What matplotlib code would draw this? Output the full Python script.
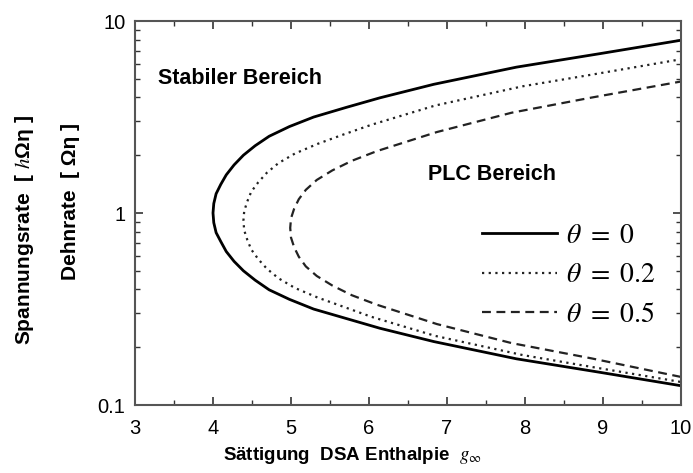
import matplotlib
matplotlib.use('Agg')
import matplotlib.pyplot as plt
from matplotlib.ticker import FixedLocator, NullFormatter, LogLocator

plt.rcParams['mathtext.fontset'] = 'stix'
plt.rcParams['font.family'] = ['Liberation Sans', 'DejaVu Sans']

g_th0 = [10.0, 8.96, 7.89, 6.83, 6.14, 5.71, 5.29, 4.98, 4.72, 4.54, 4.39, 4.27, 4.17, 4.10, 4.04, 4.01, 4.00,
         4.01, 4.04, 4.10, 4.17, 4.27, 4.39, 4.54, 4.72, 4.98, 5.29, 5.71, 6.14, 6.83, 7.89, 8.96, 10.0]
r_th0 = [0.126, 0.148, 0.174, 0.214, 0.251, 0.282, 0.316, 0.355, 0.398, 0.447, 0.50, 0.56, 0.63, 0.71, 0.79, 0.89, 1.0,
         1.12, 1.26, 1.41, 1.58, 1.78, 2.0, 2.24, 2.51, 2.82, 3.16, 3.55, 3.98, 4.68, 5.75, 6.76, 7.94]

g_th02 = [9.99, 8.85, 7.97, 6.85, 6.03, 5.68, 5.34, 5.05, 4.84, 4.69, 4.58, 4.49, 4.44, 4.40, 4.39,
          4.40, 4.44, 4.49, 4.58, 4.69, 4.84, 5.05, 5.34, 5.68, 6.03, 6.85, 7.97, 8.85, 9.99]
r_th02 = [0.132, 0.158, 0.182, 0.229, 0.288, 0.324, 0.363, 0.407, 0.457, 0.513, 0.575, 0.646, 0.724, 0.813, 0.912,
          1.023, 1.15, 1.29, 1.445, 1.62, 1.82, 2.04, 2.29, 2.57, 2.88, 3.63, 4.57, 5.25, 6.31]

g_th05 = [10.0, 8.85, 7.83, 6.87, 6.10, 5.78, 5.53, 5.33, 5.19, 5.10, 5.04, 5.00, 4.99,
          5.00, 5.04, 5.10, 5.19, 5.33, 5.53, 5.78, 6.10, 6.87, 7.83, 8.85, 10.0]
r_th05 = [0.140, 0.175, 0.210, 0.264, 0.333, 0.373, 0.419, 0.470, 0.527, 0.592, 0.664, 0.745, 0.836,
          0.938, 1.052, 1.18, 1.32, 1.486, 1.667, 1.87, 2.10, 2.64, 3.33, 3.99, 4.84]

labels = [r'$\theta\ =\ 0$', r'$\theta\ =\ 0.2$', r'$\theta\ =\ 0.5$']

W, H = 693, 473
fig = plt.figure(figsize=(W / 100, H / 100), dpi=100)
ax = fig.add_axes([135 / W, 1 - 405 / H, 546 / W, 384 / H])

ax.plot(g_th0, r_th0, color='black', lw=2.0, ls='-', label=labels[0])
ax.plot(g_th02, r_th02, color='#222222', lw=1.6, ls=(0, (1, 2)), label=labels[1])
ax.plot(g_th05, r_th05, color='#222222', lw=1.6, ls=(0, (4, 2.5)), label=labels[2])

ax.set_yscale('log')
ax.set_xlim(3, 10)
ax.set_ylim(0.1, 10)
ax.set_xticks([3, 4, 5, 6, 7, 8, 9, 10])
ax.xaxis.set_minor_locator(FixedLocator([3.5, 4.5, 5.5, 6.5, 7.5, 8.5, 9.5]))
ax.set_yticks([0.1, 1, 10])
ax.set_yticklabels(['0.1', '1', '10'])
ax.yaxis.set_minor_locator(LogLocator(base=10, subs=range(2, 10)))
ax.yaxis.set_minor_formatter(NullFormatter())

ax.tick_params(which='both', direction='in', top=True, right=True, labelsize=14.5, color='#333333')
ax.tick_params(which='major', length=6, width=1.2)
ax.tick_params(axis='x', which='major', pad=10)
ax.tick_params(axis='y', which='major', pad=7)
ax.tick_params(which='minor', length=3.5, width=1.0)
for s in ax.spines.values():
    s.set_linewidth(1.5)
    s.set_color('#555555')

# Achsentitel
fig.text(223 / W, 1 - 455 / H, r'Sättigung  DSA Enthalpie  $g_{\infty}$', ha='left', va='center',
         fontsize=13.5, fontweight='bold')
fig.text(25 / W, 1 - 230 / H, r'Spannungsrate  [ $h$Ωη ]', rotation=90, ha='center', va='center',
         fontsize=15, fontweight='bold')
fig.text(70 / W, 1 - 201 / H, 'Dehnrate  [ Ωη ]', rotation=90, ha='center', va='center',
         fontsize=15, fontweight='bold')

fig.text(158 / W, 1 - 78 / H, 'Stabiler Bereich', fontsize=15.5, fontweight='bold', va='center')
fig.text(428 / W, 1 - 174 / H, 'PLC Bereich', fontsize=15.5, fontweight='bold', va='center')

ax.legend(loc='upper left', bbox_to_anchor=(0.636, 0.474), frameon=False, fontsize=20,
          handlelength=2.7, handletextpad=0.3, labelspacing=0.48, borderpad=0, borderaxespad=0)

fig.savefig('out.png', dpi=100)
